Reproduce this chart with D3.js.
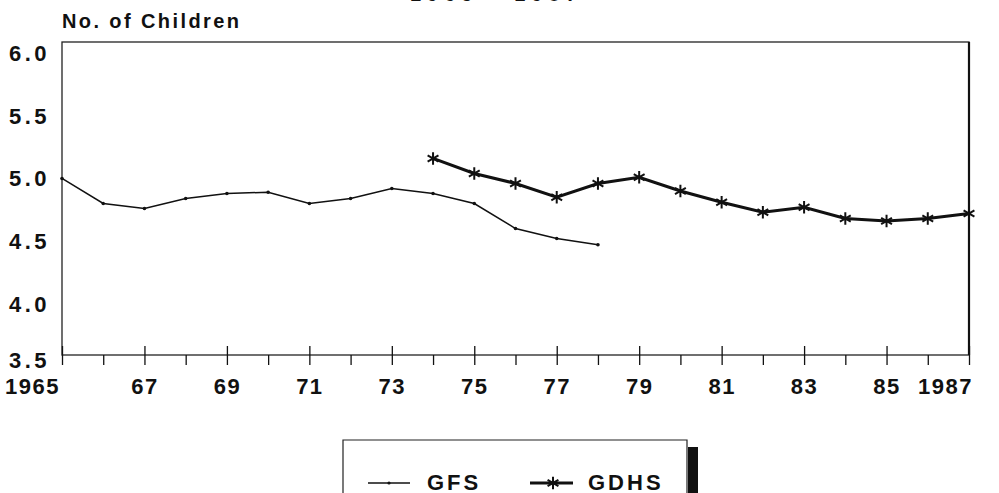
<!DOCTYPE html>
<html>
<head>
<meta charset="utf-8">
<script src="https://cdn.jsdelivr.net/npm/d3@7"></script>
<style>
body { margin: 0; background: #fff; }
svg text { font-family: "Liberation Sans", Arial, sans-serif; font-weight: bold; fill: #111; }
</style>
</head>
<body>
<svg width="999" height="493"></svg>
<script>
// data
var gfsYears = [1965,1966,1967,1968,1969,1970,1971,1972,1973,1974,1975,1976,1977,1978];
var gfsValues = [4.91,4.71,4.67,4.75,4.79,4.80,4.71,4.75,4.83,4.79,4.71,4.51,4.43,4.38];
var gdhsYears = [1974,1975,1976,1977,1978,1979,1980,1981,1982,1983,1984,1985,1986,1987];
var gdhsValues = [5.07,4.95,4.87,4.76,4.87,4.92,4.81,4.72,4.64,4.68,4.59,4.57,4.59,4.63];
var xTickYears = [1965,1967,1969,1971,1973,1975,1977,1979,1981,1983,1985,1987];
var xTickLabels = ["1965","67","69","71","73","75","77","79","81","83","85","1987"];
var xMinorYears = [1966,1968,1970,1972,1974,1976,1978,1980,1982,1984,1986];
var yTicks = [3.5,4.0,4.5,5.0,5.5,6.0];
var seriesNames = ["GFS","GDHS"];

var svg = d3.select("svg"),
  width = +svg.attr("width"),
  height = +svg.attr("height");

var plotLeft = 62, plotRight = 969, plotTop = 42, plotBottom = 355;

var x = d3.scaleLinear().domain([1965,1987]).range([plotLeft,plotRight]);
var y = d3.scaleLinear().domain([3.5,6.0]).range([plotBottom,plotTop]);

// title, mostly cut off at the top edge
svg.append("text")
  .attr("x", 410).attr("y", 1)
  .style("font-size", "20px")
  .style("letter-spacing", "6px")
  .text("1965 - 1987");

// y axis title
svg.append("text")
  .attr("x", 62).attr("y", 28)
  .style("font-size", "20px")
  .style("letter-spacing", "2.4px")
  .text("No. of Children");

// plot frame
svg.append("rect")
  .attr("x", plotLeft).attr("y", plotTop)
  .attr("width", plotRight-plotLeft).attr("height", plotBottom-plotTop)
  .style("fill", "none")
  .style("stroke", "#222")
  .style("stroke-width", 1.3);
svg.append("line")
  .attr("x1", plotRight).attr("x2", plotRight).attr("y1", plotTop).attr("y2", plotBottom)
  .style("stroke", "#111").style("stroke-width", 2.2);

// y axis labels
var yAxis = svg.append("g")
  .attr("transform", "translate(" + plotLeft + ",0)")
  .call(d3.axisLeft(y).tickValues(yTicks).tickSize(0).tickPadding(12).tickFormat(d3.format(".1f")));
yAxis.select(".domain").remove();
yAxis.selectAll("text")
  .attr("dy", function (d) { return d === 3.5 ? "0.55em" : "0.85em"; })
  .style("font-size", "22px")
  .style("letter-spacing", "3.5px")
  .style("font-family", "'Liberation Sans', Arial, sans-serif");

// x axis minor ticks (even years, below only)
var xMinor = svg.append("g")
  .attr("transform", "translate(0," + plotBottom + ")")
  .call(d3.axisBottom(x).tickValues(xMinorYears).tickSize(10).tickFormat(""));
xMinor.select(".domain").remove();
xMinor.selectAll("line").style("stroke", "#111").style("stroke-width", 1.3);

// x axis major ticks (cross the axis) with labels
var xAxis = svg.append("g")
  .attr("transform", "translate(0," + plotBottom + ")")
  .call(d3.axisBottom(x).tickValues(xTickYears).tickSize(10).tickPadding(13)
    .tickFormat(function (d, i) { return xTickLabels[i]; }));
xAxis.select(".domain").remove();
xAxis.selectAll("line").attr("y1", -9).style("stroke", "#111").style("stroke-width", 1.3);
xAxis.selectAll("text")
  .style("font-size", "22px")
  .style("letter-spacing", "1.5px")
  .style("font-family", "'Liberation Sans', Arial, sans-serif")
  .attr("dx", function (d, i) {
    if (i === 0) return -30;
    if (i === xTickLabels.length - 1) return -24;
    return 0;
  });

// lines
var line = d3.line()
  .x(function (d) { return x(d[0]); })
  .y(function (d) { return y(d[1]); });

var gfs = gfsYears.map(function (yr, i) { return [yr, gfsValues[i]]; });
var gdhs = gdhsYears.map(function (yr, i) { return [yr, gdhsValues[i]]; });

svg.append("path")
  .datum(gfs)
  .attr("d", line)
  .style("fill", "none")
  .style("stroke", "#111")
  .style("stroke-width", 1.5);

svg.selectAll(".gfsDot")
  .data(gfs)
  .enter().append("circle")
  .attr("class", "gfsDot")
  .attr("cx", function (d) { return x(d[0]); })
  .attr("cy", function (d) { return y(d[1]); })
  .attr("r", 1.8)
  .style("fill", "#111");

svg.append("path")
  .datum(gdhs)
  .attr("d", line)
  .style("fill", "none")
  .style("stroke", "#111")
  .style("stroke-width", 3);

var star = d3.symbol().type(d3.symbolAsterisk).size(110);
svg.selectAll(".gdhsStar")
  .data(gdhs)
  .enter().append("path")
  .attr("class", "gdhsStar")
  .attr("d", star)
  .attr("transform", function (d) { return "translate(" + x(d[0]) + "," + y(d[1]) + ")"; })
  .style("fill", "none")
  .style("stroke", "#111")
  .style("stroke-width", 2);

// legend
var legend = svg.append("g");
legend.append("path")
  .attr("d", "M343,493 V440 H687 V493")
  .style("fill", "none")
  .style("stroke", "#222")
  .style("stroke-width", 1.2);
legend.append("rect")
  .attr("x", 688).attr("y", 447)
  .attr("width", 10).attr("height", 46)
  .style("fill", "#111");

legend.append("line")
  .attr("x1", 368).attr("x2", 410).attr("y1", 483).attr("y2", 483)
  .style("stroke", "#111").style("stroke-width", 1.3);
legend.append("circle")
  .attr("cx", 389).attr("cy", 483).attr("r", 1.6)
  .style("fill", "#111");
legend.append("text")
  .attr("x", 427).attr("y", 490)
  .style("font-size", "22px")
  .style("letter-spacing", "3px")
  .text(seriesNames[0]);

legend.append("line")
  .attr("x1", 530).attr("x2", 573).attr("y1", 483).attr("y2", 483)
  .style("stroke", "#111").style("stroke-width", 3);
legend.append("path")
  .attr("d", star)
  .attr("transform", "translate(553,483)")
  .style("fill", "none")
  .style("stroke", "#111")
  .style("stroke-width", 2);
legend.append("text")
  .attr("x", 588).attr("y", 490)
  .style("font-size", "22px")
  .style("letter-spacing", "3px")
  .text(seriesNames[1]);
</script>
</body>
</html>
